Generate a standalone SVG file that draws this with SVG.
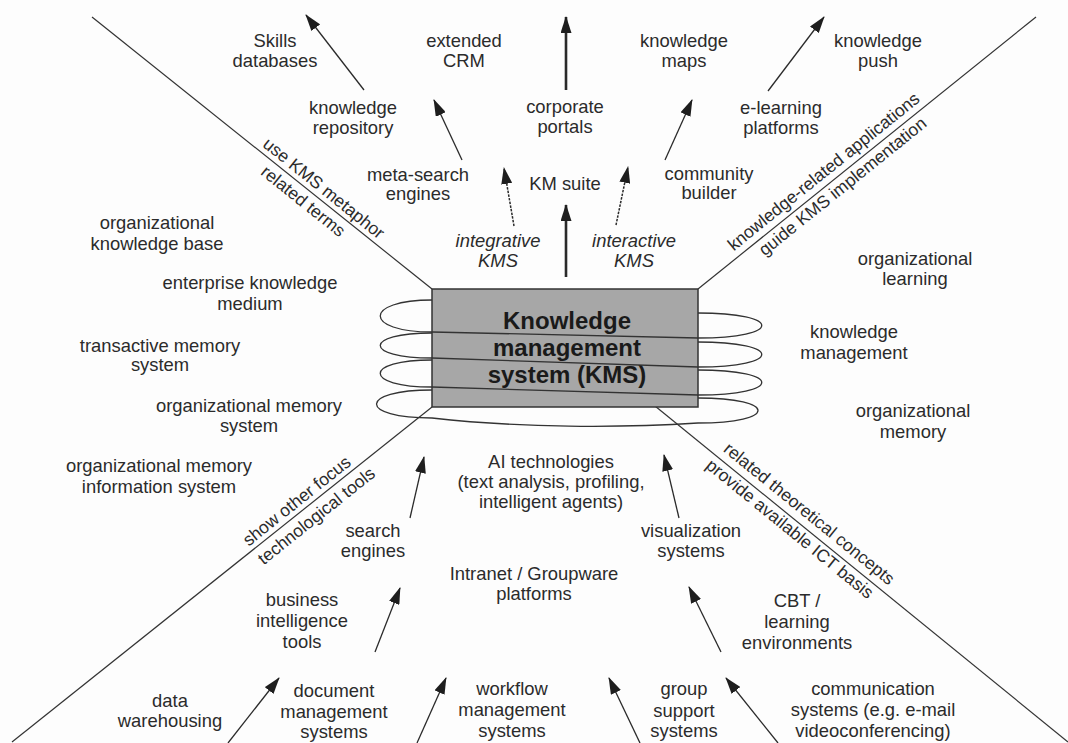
<svg xmlns="http://www.w3.org/2000/svg" width="1068" height="743" viewBox="0 0 1068 743">
<style>
.t{font-family:"Liberation Sans",Arial,sans-serif;font-size:18.4px;fill:#2b2b2b;text-anchor:middle}
.i{font-style:italic}
.r{font-family:"Liberation Sans",Arial,sans-serif;font-size:17.5px;fill:#2b2b2b;text-anchor:middle}
.b{font-family:"Liberation Sans",Arial,sans-serif;font-size:24px;font-weight:bold;fill:#1a1a1a;text-anchor:middle}
.d{stroke:#333;stroke-width:1.2;fill:none}
.a{stroke:#2a2a2a;stroke-width:1.3;fill:none;marker-end:url(#ah)}
.ad{stroke-dasharray:2.5 1.2;stroke-width:1.5}
.at{stroke-width:2.6}
.s{stroke:#333;stroke-width:1.3;fill:none}
</style>
<defs>
<marker id="ah" viewBox="0 0 17 11" refX="16" refY="5.5" markerWidth="17" markerHeight="11" markerUnits="userSpaceOnUse" orient="auto">
<path d="M0,0 L17,5.5 L0,11 z" fill="#1e1e1e"/>
</marker>
</defs>
<rect x="0" y="0" width="1068" height="743" fill="#fdfdfd"/>

<g id="connectors">
<line class="d" x1="92" y1="17" x2="432" y2="289"/>
<line class="d" x1="1036" y1="17" x2="698" y2="289"/>
<line class="d" x1="12" y1="742" x2="432" y2="407"/>
<line class="d" x1="655" y1="406" x2="1068" y2="742"/>
<line class="a" x1="364" y1="90" x2="306" y2="15"/>
<line class="a" x1="462" y1="160" x2="434" y2="100"/>
<line class="a ad" x1="514" y1="226" x2="504" y2="168"/>
<line class="a ad" x1="616" y1="225" x2="628" y2="167"/>
<line class="a at" x1="566" y1="90" x2="566" y2="17"/>
<line class="a at" x1="566" y1="277" x2="566" y2="205"/>
<line class="a" x1="665" y1="160" x2="692" y2="100"/>
<line class="a" x1="768" y1="91" x2="824" y2="17"/>
<line class="a" x1="410" y1="518" x2="424" y2="457"/>
<line class="a" x1="375" y1="652" x2="400" y2="588"/>
<line class="a" x1="228" y1="743" x2="279" y2="678"/>
<line class="a" x1="417" y1="743" x2="446" y2="678"/>
<line class="a" x1="679" y1="518" x2="664" y2="455"/>
<line class="a" x1="721" y1="652" x2="689" y2="587"/>
<line class="a" x1="640" y1="743" x2="609" y2="678"/>
<line class="a" x1="778" y1="743" x2="726" y2="678"/>
</g>

<g id="kms">
<rect x="432" y="289" width="266" height="118" fill="#a7a7a7" stroke="#333" stroke-width="1.5"/>
<text class="b" x="567" y="329">Knowledge</text>
<text class="b" x="567" y="356">management</text>
<text class="b" x="567" y="383">system (KMS)</text>
<path class="s" d="M432,300 C363,300 363,332 432,332 L698,338 C783,338 783,313 698,313"/>
<path class="s" d="M432,333 C363,333 363,358 432,358 L698,367 C783,367 783,342 698,342"/>
<path class="s" d="M432,360 C363,360 363,387 432,387 L698,395 C783,395 783,370 698,370"/>
<path class="s" d="M432,390 C358,390 358,418 432,418 C520,428 620,428 698,423 C778,423 778,398 698,398"/>
</g>

<g id="diagonal-labels">
<g transform="translate(313.3,195) rotate(38.8)">
<text class="r" x="4" y="-6">use KMS metaphor</text>
<text class="r" x="-4" y="17">related terms</text>
</g>
<g transform="translate(833.6,180) rotate(-38.8)">
<text class="r" x="-2.5" y="-7">knowledge-related applications</text>
<text class="r" x="3" y="16.5">guide KMS implementation</text>
</g>
<g transform="translate(305.8,507.5) rotate(-38.6)">
<text class="r" x="-3" y="-5">show other focus</text>
<text class="r" x="3" y="19">technological tools</text>
</g>
<g transform="translate(798.5,522.8) rotate(39.1)">
<text class="r" x="2.6" y="-8">related theoretical concepts</text>
<text class="r" x="-3" y="16">provide available ICT basis</text>
</g>
</g>

<g id="n-skills"><text class="t" x="275" y="47">Skills</text><text class="t" x="275" y="67">databases</text></g>
<g id="n-crm"><text class="t" x="464" y="47">extended</text><text class="t" x="464" y="67">CRM</text></g>
<g id="n-maps"><text class="t" x="684" y="47">knowledge</text><text class="t" x="684" y="67">maps</text></g>
<g id="n-push"><text class="t" x="878" y="47">knowledge</text><text class="t" x="878" y="67">push</text></g>
<g id="n-repo"><text class="t" x="353" y="114">knowledge</text><text class="t" x="353" y="134">repository</text></g>
<g id="n-portals"><text class="t" x="565" y="113">corporate</text><text class="t" x="565" y="133">portals</text></g>
<g id="n-elearn"><text class="t" x="781" y="114">e-learning</text><text class="t" x="781" y="134">platforms</text></g>
<g id="n-meta"><text class="t" x="418" y="181">meta-search</text><text class="t" x="418" y="200">engines</text></g>
<g id="n-suite"><text class="t" x="565" y="190">KM suite</text></g>
<g id="n-community"><text class="t" x="709" y="180">community</text><text class="t" x="709" y="199">builder</text></g>
<g id="n-integrative"><text class="t i" x="498" y="247">integrative</text><text class="t i" x="498" y="267">KMS</text></g>
<g id="n-interactive"><text class="t i" x="634" y="247">interactive</text><text class="t i" x="634" y="267">KMS</text></g>

<g id="n-okb"><text class="t" x="157" y="229">organizational</text><text class="t" x="157" y="250">knowledge base</text></g>
<g id="n-ekm"><text class="t" x="250" y="289">enterprise knowledge</text><text class="t" x="250" y="310">medium</text></g>
<g id="n-tms"><text class="t" x="160" y="352">transactive memory</text><text class="t" x="160" y="371">system</text></g>
<g id="n-oms"><text class="t" x="249" y="412">organizational memory</text><text class="t" x="249" y="432">system</text></g>
<g id="n-omis"><text class="t" x="159" y="472">organizational memory</text><text class="t" x="159" y="493">information system</text></g>

<g id="n-ol"><text class="t" x="915" y="265">organizational</text><text class="t" x="915" y="285">learning</text></g>
<g id="n-km"><text class="t" x="854" y="338">knowledge</text><text class="t" x="854" y="359">management</text></g>
<g id="n-om"><text class="t" x="913" y="417">organizational</text><text class="t" x="913" y="438">memory</text></g>

<g id="n-ai"><text class="t" x="551" y="468">AI technologies</text><text class="t" x="551" y="488">(text analysis, profiling,</text><text class="t" x="551" y="508">intelligent agents)</text></g>
<g id="n-search"><text class="t" x="373" y="537">search</text><text class="t" x="373" y="557">engines</text></g>
<g id="n-vis"><text class="t" x="691" y="537">visualization</text><text class="t" x="691" y="557">systems</text></g>
<g id="n-intranet"><text class="t" x="534" y="580">Intranet / Groupware</text><text class="t" x="534" y="600">platforms</text></g>
<g id="n-bi"><text class="t" x="302" y="606">business</text><text class="t" x="302" y="627">intelligence</text><text class="t" x="302" y="648">tools</text></g>
<g id="n-cbt"><text class="t" x="797" y="607">CBT /</text><text class="t" x="797" y="628">learning</text><text class="t" x="797" y="649">environments</text></g>
<g id="n-dw"><text class="t" x="170" y="707">data</text><text class="t" x="170" y="727">warehousing</text></g>
<g id="n-dms"><text class="t" x="334" y="697">document</text><text class="t" x="334" y="718">management</text><text class="t" x="334" y="738">systems</text></g>
<g id="n-wf"><text class="t" x="512" y="695">workflow</text><text class="t" x="512" y="716">management</text><text class="t" x="512" y="737">systems</text></g>
<g id="n-gss"><text class="t" x="684" y="695">group</text><text class="t" x="684" y="717">support</text><text class="t" x="684" y="737">systems</text></g>
<g id="n-comm"><text class="t" x="873" y="695">communication</text><text class="t" x="873" y="716">systems (e.g. e-mail</text><text class="t" x="873" y="737">videoconferencing)</text></g>
</svg>
